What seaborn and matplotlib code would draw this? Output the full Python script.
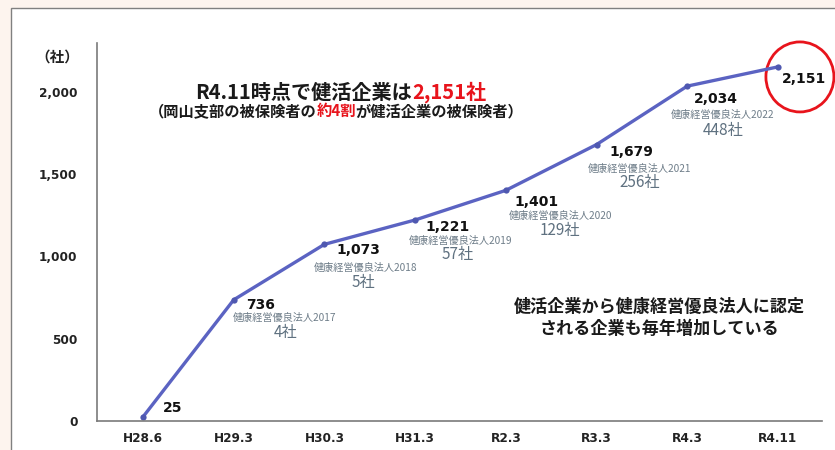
import matplotlib
matplotlib.use("Agg")
import matplotlib.pyplot as plt
import seaborn as sns
import numpy as np
import pandas as pd
from matplotlib.patches import Rectangle, Ellipse

# ---- data ----
periods = ["H28.6", "H29.3", "H30.3", "H31.3", "R2.3", "R3.3", "R4.3", "R4.11"]
companies = [25, 736, 1073, 1221, 1401, 1679, 2034, 2151]
award_years = [None, 2017, 2018, 2019, 2020, 2021, 2022, None]
award_counts = [None, 4, 5, 57, 129, 256, 448, None]
y_ticks = [0, 500, 1000, 1500, 2000]

# ---- label offsets (pixels, relative to each point) ----
value_offsets = [(20, 9), (12, -5), (12, -6), (10, -7), (9, -12), (13, -7), (7, -13), (4, -12)]
award_offsets = [None, (51, -18), (41, -24), (45, -21), (55, -26), (43, -24), (35, -29), None]
count_offsets = [None, (52, -33), (39, -38), (43, -35), (54, -40), (43, -38), (36, -44), None]

sns.set_theme(style="white")
JP = ["Noto Sans CJK JP", "DejaVu Sans"]
plt.rcParams["font.family"] = ["DejaVu Sans", "Noto Sans CJK JP"]

W, H = 835, 450
fig = plt.figure(figsize=(W / 100, H / 100), dpi=100, facecolor="#fdf4ee")
fig.patches.append(Rectangle((11 / W, -0.1), 1.0, 1.1 - 8 / H, transform=fig.transFigure,
                             facecolor="white", edgecolor="#808080", linewidth=1.0, zorder=-5))

ax = fig.add_axes([97 / W, 1 - 421 / H, (822 - 97) / W, (421 - 43) / H])
ax.set_facecolor("none")
ax.set_zorder(2)

df = pd.DataFrame({"x": np.arange(len(periods)), "y": companies})
LINE = "#5b63c2"
sns.lineplot(data=df, x="x", y="y", ax=ax, color=LINE, linewidth=2.4, sort=False,
             marker="o", markersize=4.5, markeredgewidth=0, markerfacecolor="#4f58b0")

ax.set_xlim(-0.507, 7.486)
ax.set_ylim(0, 2296)
ax.set_xticks(np.arange(len(periods)))
ax.set_xticklabels(periods)
ax.set_yticks(y_ticks)
ax.set_yticklabels([f"{v:,}" for v in y_ticks])
ax.set_xlabel("")
ax.set_ylabel("")
ax.tick_params(axis="both", length=0, labelsize=8.7, colors="#222222")
ax.tick_params(axis="y", pad=14)
ax.tick_params(axis="x", pad=8)
for lab in ax.get_xticklabels() + ax.get_yticklabels():
    lab.set_fontweight("bold")
for s in ["top", "right"]:
    ax.spines[s].set_visible(False)
for s in ["left", "bottom"]:
    ax.spines[s].set_color("#7a7a7a")
    ax.spines[s].set_linewidth(1.2)

fig.text(57 / W, 1 - 57 / H, "（社）", ha="center", va="center", fontsize=10.5,
         fontweight="bold", family=JP, color="#222222")

# value labels
for i, v in enumerate(companies):
    dx, dy = value_offsets[i]
    ax.annotate(f"{v:,}", xy=(i, v), xytext=(dx, dy), textcoords="offset pixels",
                ha="left", va="center", fontsize=10, fontweight="bold", color="#111111",
                annotation_clip=False)
    if award_years[i] is not None:
        dx, dy = award_offsets[i]
        ax.annotate(f"健康経営優良法人{award_years[i]}", xy=(i, v), xytext=(dx, dy),
                    textcoords="offset pixels", ha="center", va="center", fontsize=7.3,
                    color="#6e7d89", family=JP)
        dx, dy = count_offsets[i]
        ax.annotate(f"{award_counts[i]}社", xy=(i, v), xytext=(dx, dy),
                    textcoords="offset pixels", ha="center", va="center", fontsize=11,
                    color="#5f7180", family=JP)

# red circle around final value
ax.add_patch(Ellipse((7 + 22 / 90.7, (421 - 77) / 0.1646), width=68 / 90.7, height=70 / 0.1646,
                     facecolor="none", edgecolor="#e8141c", linewidth=2.0, clip_on=False))

# multi-colour centred text lines
fig.canvas.draw()
renderer = fig.canvas.get_renderer()


def colored_line(cx, cy, parts, size):
    texts = []
    for s, c in parts:
        t = fig.text(0, cy, s, color=c, fontsize=size, fontweight="bold", family=JP,
                     ha="left", va="center")
        texts.append(t)
    widths = [t.get_window_extent(renderer).width for t in texts]
    x = cx - sum(widths) / 2
    for t, w in zip(texts, widths):
        t.set_x(x / W)
        x += w


colored_line(341, 1 - 92 / H, [("R4.11時点で健活企業は", "#1a1a1a"), ("2,151社", "#e8141c")], 14.5)
colored_line(336, 1 - 111 / H, [("（岡山支部の被保険者の", "#1a1a1a"), ("約4割", "#e8141c"),
                                ("が健活企業の被保険者）", "#1a1a1a")], 11.0)

fig.text(659 / W, 1 - 307 / H, "健活企業から健康経営優良法人に認定", ha="center", va="center",
         fontsize=12.3, fontweight="bold", family=JP, color="#1a1a1a")
fig.text(659 / W, 1 - 329 / H, "される企業も毎年増加している", ha="center", va="center",
         fontsize=12.3, fontweight="bold", family=JP, color="#1a1a1a")

fig.savefig("out.png", dpi=100, facecolor=fig.get_facecolor())
